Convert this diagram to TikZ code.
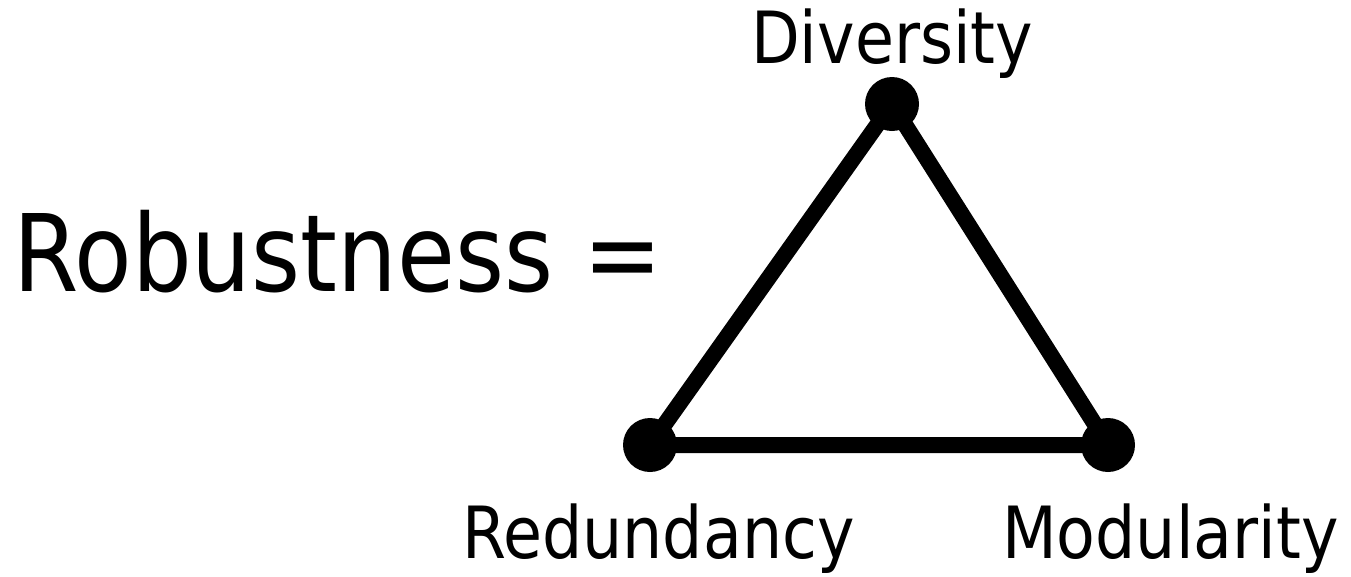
\documentclass[tikz,border=0pt]{standalone}
\usepackage{fontspec}
\setmainfont{DejaVu Sans}[FakeStretch=0.88]
\begin{document}
\begin{tikzpicture}[x=1pt,y=-1pt,
  lbl/.style={inner sep=0pt,anchor=base west,font=\fontsize{72}{80}\selectfont},
  big/.style={inner sep=0pt,anchor=base west,font=\fontsize{107}{115}\selectfont},
  dot/.style={circle,fill=black,minimum size=54pt,inner sep=0pt},
  edge/.style={line width=16pt}]
\useasboundingbox (0,0) rectangle (1351,576);
\node[big] (rob) at (13,291) {Robustness =};
\node[dot] (d) at (892,104) {};
\node[dot] (r) at (650,445) {};
\node[dot] (m) at (1108,445) {};
\draw[edge] (d.center) -- (r.center) -- (m.center) -- cycle;
\node[lbl] (dl) at (751,63) {Diversity};
\node[lbl] (rl) at (462,558) {Redundancy};
\node[lbl] (ml) at (1002,558) {Modularity};
\end{tikzpicture}
\end{document}
